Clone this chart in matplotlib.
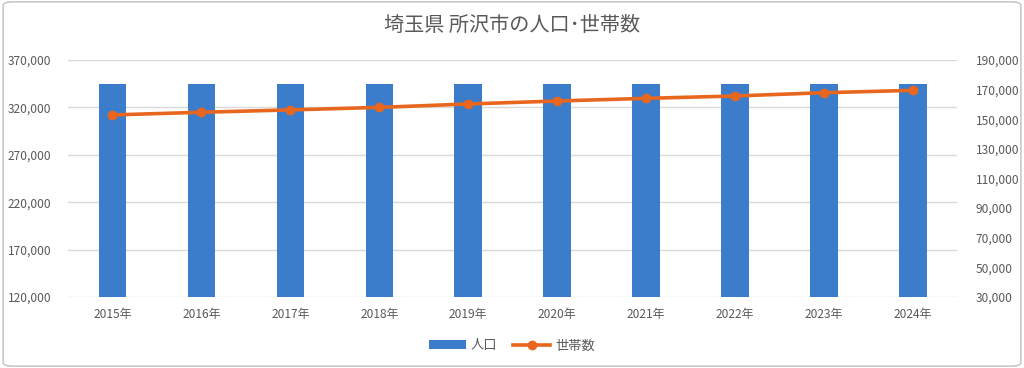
import matplotlib
matplotlib.use("Agg")
import matplotlib.pyplot as plt
from matplotlib.patches import FancyBboxPatch
from matplotlib.ticker import FuncFormatter

plt.rcParams['font.family'] = ['Noto Sans CJK JP', 'DejaVu Sans']

years = ["2015年", "2016年", "2017年", "2018年", "2019年",
         "2020年", "2021年", "2022年", "2023年", "2024年"]
population = [344500, 344300, 344800, 344700, 344700,
              344600, 344700, 344300, 344700, 344400]
households = [152900, 154700, 156300, 158000, 160300,
              162300, 164100, 165700, 167900, 169500]
left_ticks = [120000, 170000, 220000, 270000, 320000, 370000]
right_ticks = [30000, 50000, 70000, 90000, 110000, 130000, 150000, 170000, 190000]

bar_color = "#3B7DCB"
line_color = "#E9661F"
text_color = "#595959"

fig = plt.figure(figsize=(10.24, 3.68), dpi=100)
fig.patches.append(FancyBboxPatch((0.003, 0.005), 0.994, 0.99, boxstyle="round,pad=0,rounding_size=0.01",
                                  transform=fig.transFigure, fill=False, edgecolor="#BFBFBF", lw=1))

ax = fig.add_axes([0.0664, 0.193, 0.8686, 0.644])
x = list(range(len(years)))
bars = ax.bar(x, [p - left_ticks[0] for p in population], bottom=left_ticks[0], width=0.31,
              color=bar_color, label="人口", zorder=2)
ax.set_ylim(left_ticks[0], left_ticks[-1])
ax.set_xlim(-0.5, len(years) - 0.5)
ax.set_yticks(left_ticks)
ax.yaxis.set_major_formatter(FuncFormatter(lambda v, p: f"{int(v):,}"))
ax.grid(axis="y", color="#D9D9D9", lw=1, zorder=0)
ax.set_xticks(x)
ax.set_xticklabels(years)
for s in ax.spines.values():
    s.set_visible(False)
ax.tick_params(length=0, colors=text_color, labelsize=8.6)
ax.tick_params(axis="x", pad=8)
ax.tick_params(axis="y", pad=12)

ax2 = ax.twinx()
line, = ax2.plot(x, households, color=line_color, lw=2.6, marker="o", markersize=6,
                 label="世帯数", zorder=3)
ax2.set_ylim(right_ticks[0], right_ticks[-1])
ax2.set_yticks(right_ticks)
ax2.yaxis.set_major_formatter(FuncFormatter(lambda v, p: f"{int(v):,}"))
for s in ax2.spines.values():
    s.set_visible(False)
ax2.tick_params(length=0, colors=text_color, labelsize=8.6, pad=13)

fig.text(0.5, 0.93, "埼玉県 所沢市の人口･世帯数", ha="center", va="center",
         fontsize=14.5, color=text_color)

fig.legend([bars, line], ["人口", "世帯数"], loc="center", bbox_to_anchor=(0.5, 0.06),
           ncol=2, frameon=False, fontsize=9.5, labelcolor=text_color,
           handlelength=2.8, columnspacing=1.2, handletextpad=0.4)

plt.savefig("out.png", dpi=100)
